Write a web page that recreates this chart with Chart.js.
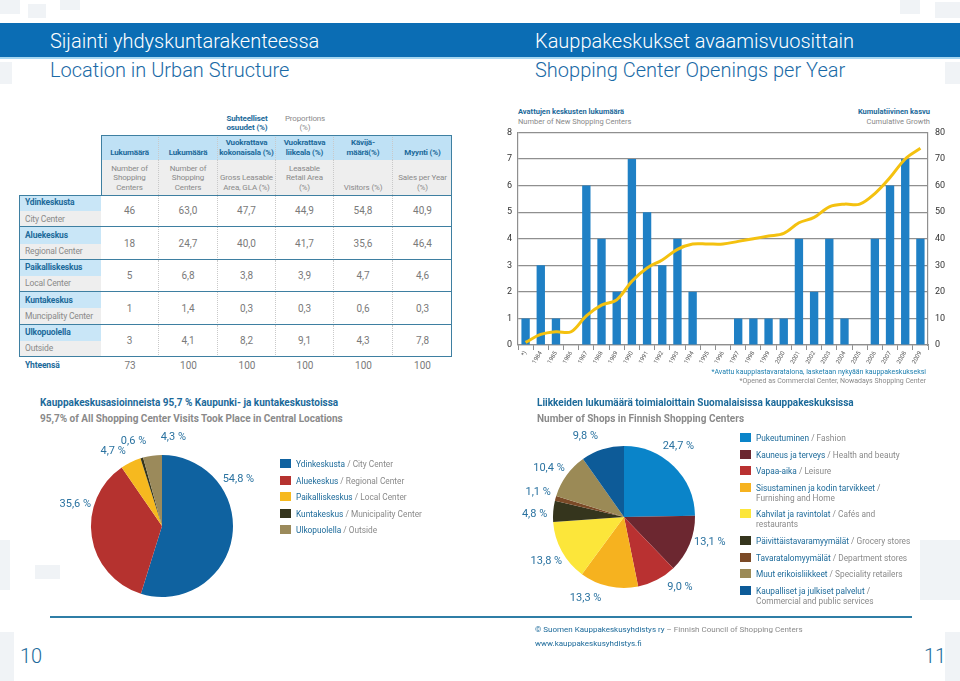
<!DOCTYPE html>
<html>
<head>
<meta charset="utf-8">
<script src="https://cdn.jsdelivr.net/npm/chart.js@4.4.1/dist/chart.umd.min.js"></script>
<style>
body { margin: 0; background: #fff; }
#page { position: relative; width: 960px; height: 681px; overflow: hidden; font-family: Roboto, "Noto Sans", sans-serif; }
.abs { position: absolute; white-space: nowrap; }
.deco { position: absolute; background: #f0f3f6; }
.band { position: absolute; left: 0; top: 23px; width: 960px; height: 34px; background: #0b6db4; border-bottom: 2px solid #a8d8f2; }
.h1 { font-size: 20px; color: #fff; top: 29px; font-weight: 300; }
.h2 { font-size: 20px; color: #1a6aa6; top: 58px; font-weight: 300; }
.cell { position: absolute; display: flex; align-items: center; justify-content: center; text-align: center; box-sizing: border-box;
  font-size: 8px; line-height: 9.5px; white-space: nowrap; letter-spacing: -0.15px; }
.lab { font-size: 8.5px; }
.bl { color: #1c6a9a; font-weight: bold; }
.gr { color: #8a8a8a; }
.num { color: #7a7a7a; font-size: 10px; letter-spacing: 0; }
.t1 { font-size: 10px; font-weight: bold; color: #1c6a9a; }
.t2 { font-size: 10px; font-weight: bold; color: #8a8a8a; }
.leg { position: absolute; font-size: 8.3px; line-height: 10px; }
.leg .it { position: relative; padding-left: 16px; margin-bottom: 6.6px; }
.leg .sw { position: absolute; left: 0; top: 0; width: 11px; height: 9px; }
.fi { color: #1c6a9a; }
.en { color: #8a8a8a; }
canvas { position: absolute; }
</style>
</head>
<body>
<div id="page">
  <div class="deco" style="left:0;top:0;width:20px;height:14px"></div>
  <div class="deco" style="left:28px;top:4px;width:18px;height:14px"></div>
  <div class="deco" style="left:60px;top:0;width:20px;height:10px"></div>
  <div class="deco" style="left:0;top:62px;width:12px;height:22px"></div>
  <div class="deco" style="left:900px;top:0;width:20px;height:14px"></div>
  <div class="deco" style="left:935px;top:2px;width:25px;height:16px"></div>
  <div class="deco" style="left:945px;top:62px;width:15px;height:22px"></div>
  <div class="deco" style="left:0;top:540px;width:10px;height:50px"></div>
  <div class="deco" style="left:35px;top:565px;width:25px;height:14px"></div>
  <div class="deco" style="left:920px;top:540px;width:40px;height:60px"></div>
  <div class="deco" style="left:0;top:632px;width:14px;height:49px"></div>
  <div class="deco" style="left:945px;top:632px;width:15px;height:49px"></div>

  <div class="band"></div>
  <div class="abs h1" style="left:50px">Sijainti yhdyskuntarakenteessa</div>
  <div class="abs h2" style="left:50px">Location in Urban Structure</div>
  <div class="abs h1" style="left:535px">Kauppakeskukset avaamisvuosittain</div>
  <div class="abs h2" style="left:535px">Shopping Center Openings per Year</div>

  <div class="abs bl" style="left:518px;top:107px;font-size:7.5px">Avattujen keskusten lukumäärä</div>
  <div class="abs gr" style="left:518px;top:117px;font-size:7.5px">Number of New Shopping Centers</div>
  <div class="abs bl" style="right:30px;top:107px;font-size:7.5px">Kumulatiivinen kasvu</div>
  <div class="abs gr" style="right:30px;top:117px;font-size:7.5px">Cumulative Growth</div>
  <canvas id="bars" width="460" height="253" style="left:500px;top:120px"></canvas>
  <div class="abs" style="right:34px;top:368px;font-size:7px;color:#1c7fb0">*Avattu kauppiastavaratalona, lasketaan nykyään kauppakeskukseksi</div>
  <div class="abs gr" style="right:34px;top:377px;font-size:7px">*Opened as Commercial Center, Nowadays Shopping Center</div>

  <div class="abs t1" style="left:40px;top:397px">Kauppakeskusasioinneista 95,7 % Kaupunki- ja kuntakeskustoissa</div>
  <div class="abs t2" style="left:40px;top:413px">95,7% of All Shopping Center Visits Took Place in Central Locations</div>
  <canvas id="pieLeft" width="260" height="220" style="left:32px;top:416px"></canvas>
  <div id="legLeft" class="leg" style="left:280px;top:459px"></div>

  <div class="abs t1" style="left:537px;top:397px">Liikkeiden lukumäärä toimialoittain Suomalaisissa kauppakeskuksissa</div>
  <div class="abs t2" style="left:537px;top:413px">Number of Shops in Finnish Shopping Centers</div>
  <canvas id="pieRight" width="250" height="220" style="left:499px;top:407px"></canvas>
  <div id="legRight" class="leg" style="left:740px;top:433px;width:176px"></div>

  <div class="abs" style="left:50px;top:616px;width:862px;height:0;border-top:2px solid #2f7ea6"></div>
  <div class="abs" style="left:535px;top:625px;font-size:8px;color:#8a8a8a"><span style="color:#1c6a9a">© Suomen Kauppakeskusyhdistys ry</span> – Finnish Council of Shopping Centers</div>
  <div class="abs" style="left:535px;top:639px;font-size:8px;color:#1c6a9a">www.kauppakeskusyhdistys.fi</div>
  <div class="abs" style="left:20px;top:644px;font-size:20px;color:#1c6a9a;font-weight:300">10</div>
  <div class="abs" style="left:924px;top:644px;font-size:20px;color:#1c6a9a;font-weight:300">11</div>
</div>
<script>
// Kauppakeskukset avaamisvuosittain
const years = ['*)', '1984', '1985', '1986', '1987', '1988', '1989', '1990', '1991', '1992', '1993', '1994', '1995',
  '1996', '1997', '1998', '1999', '2000', '2001', '2002', '2003', '2004', '2005', '2006', '2007', '2008', '2009'];
const newCenters = [1, 3, 1, 0, 6, 4, 2, 7, 5, 3, 4, 2, 0, 0, 1, 1, 1, 1, 4, 2, 4, 1, 0, 4, 6, 7, 4];
const cumulative = [1, 4, 5, 5, 11, 15, 17, 24, 29, 32, 36, 38, 38, 38, 39, 40, 41, 42, 46, 48, 52, 53, 53, 57, 63, 70, 74];
const countTicks = [0, 1, 2, 3, 4, 5, 6, 7, 8];
const growthTicks = [0, 10, 20, 30, 40, 50, 60, 70, 80];

// Sijainti yhdyskuntarakenteessa (taulukko)
const locationFi = ['Ydinkeskusta', 'Aluekeskus', 'Paikalliskeskus', 'Kuntakeskus', 'Ulkopuolella'];
const locationEn = ['City Center', 'Regional Center', 'Local Center', 'Muncipality Center', 'Outside'];
const centerCount = [46, 18, 5, 1, 3];
const centerShare = [63.0, 24.7, 6.8, 1.4, 4.1];
const glaShare = [47.7, 40.0, 3.8, 0.3, 8.2];
const retailShare = [44.9, 41.7, 3.9, 0.3, 9.1];
const visitorShare = [54.8, 35.6, 4.7, 0.6, 4.3];
const salesShare = [40.9, 46.4, 4.6, 0.3, 7.8];
const totals = [73, 100, 100, 100, 100, 100];
const headFi = ['Lukumäärä', 'Lukumäärä', 'Vuokrattava<br>kokonaisala (%)', 'Vuokrattava<br>liikeala (%)', 'Kävijä-<br>määrä(%)', 'Myynti (%)'];
const headEn = ['Number of<br>Shopping<br>Centers', 'Number of<br>Shopping<br>Centers', 'Gross Leasable<br>Area, GLA (%)',
  'Leasable<br>Retail Area<br>(%)', 'Visitors (%)', 'Sales per Year<br>(%)'];

// Asioinnit (piirakka vasen)
const visitLegendEn = ['City Center', 'Regional Center', 'Local Center', 'Municipality Center', 'Outside'];
const visitColors = ['#0f62a0', '#b5322f', '#f6b91f', '#35351d', '#9b8a5b'];

// Liikkeiden lukumäärä toimialoittain (piirakka oikea)
const shopFi = ['Pukeutuminen', 'Kauneus ja terveys', 'Vapaa-aika', 'Sisustaminen ja kodin tarvikkeet', 'Kahvilat ja ravintolat',
  'Päivittäistavaramyymälät', 'Tavaratalomyymälät', 'Muut erikoisliikkeet', 'Kaupalliset ja julkiset palvelut'];
const shopEn = ['Fashion', 'Health and beauty', 'Leisure', 'Furnishing and Home', 'Cafés and restaurants', 'Grocery stores',
  'Department stores', 'Speciality retailers', 'Commercial and public services'];
const shopShare = [24.7, 13.1, 9.0, 13.3, 13.8, 4.8, 1.1, 10.4, 9.8];
const shopColors = ['#0a84c9', '#6c2730', '#b93131', '#f6b21f', '#fce63a', '#35351d', '#7b4a27', '#9b8a56', '#0d5b98'];

const fmt = v => v.toFixed(1).replace('.', ',');
const page = document.getElementById('page');

// --- taulukko ---
const colX = [19, 101, 159, 218, 276, 334, 393, 452];
const rowY = [195, 227.4, 259.8, 292.2, 324.6, 357];
const edge = '#3e7fa1';
function cell(x, y, w, h, html, cls, extra) {
  const d = document.createElement('div');
  d.className = 'cell ' + (cls || '');
  d.style.cssText = `left:${x}px;top:${y}px;width:${w}px;height:${h}px;` + (extra || '');
  d.innerHTML = html;
  page.appendChild(d);
  return d;
}
cell(colX[3], 112, colX[4] - colX[3], 22, 'Suhteelliset<br>osuudet (%)', 'bl');
cell(colX[4], 112, colX[5] - colX[4], 22, 'Proportions<br>(%)', 'gr');
for (let c = 0; c < 6; c++) {
  const x = colX[c + 1], w = colX[c + 2] - x;
  const sep = c < 5 ? 'border-right:1px dotted #c9c9c9;' : '';
  cell(x, 135, w, 25, headFi[c], 'bl', 'background:#bfe1f5;align-items:flex-end;padding-bottom:3px;' + sep);
  cell(x, 160, w, 35, headEn[c], 'gr', 'background:#eeeeee;align-items:flex-end;padding-bottom:3px;' + sep);
}
cell(colX[1], 135, colX[7] - colX[1], 60, '', '', `border:1.5px solid ${edge};border-bottom:none;`);
const columns = [centerCount, centerShare, glaShare, retailShare, visitorShare, salesShare];
for (let r = 0; r < locationFi.length; r++) {
  const y = rowY[r], h = rowY[r + 1] - y;
  cell(colX[0], y, colX[1] - colX[0], h / 2, locationFi[r], 'bl lab', 'background:#c9e6f7;justify-content:flex-start;padding-left:6px;');
  cell(colX[0], y + h / 2, colX[1] - colX[0], h / 2, locationEn[r], 'gr lab', 'background:#eeeeee;justify-content:flex-start;padding-left:6px;');
  for (let c = 0; c < 6; c++) {
    const v = columns[c][r];
    const sep = c < 5 ? 'border-right:1px dotted #c9c9c9;' : '';
    cell(colX[c + 1], y, colX[c + 2] - colX[c + 1], h, c === 0 ? String(v) : fmt(v), 'num', sep);
  }
  cell(colX[0], y, colX[7] - colX[0], h, '', '', `border-bottom:1.5px solid ${edge};border-left:1.5px solid ${edge};border-right:1.5px solid ${edge};` + (r === 0 ? `border-top:1.5px solid ${edge};` : ''));
}
cell(colX[0], 359, colX[1] - colX[0], 14, 'Yhteensä', 'bl lab', 'justify-content:flex-start;padding-left:6px;');
for (let c = 0; c < 6; c++) {
  cell(colX[c + 1], 359, colX[c + 2] - colX[c + 1], 14, String(totals[c]), 'num');
}

// --- legendat ---
function legend(id, fi, en, colors) {
  const box = document.getElementById(id);
  fi.forEach((t, i) => {
    const it = document.createElement('div');
    it.className = 'it';
    it.innerHTML = `<span class="sw" style="background:${colors[i]}"></span><span class="fi">${t}</span> <span class="en">/ ${en[i]}</span>`;
    box.appendChild(it);
  });
}
legend('legLeft', locationFi, visitLegendEn, visitColors);
legend('legRight', shopFi, shopEn, shopColors);

// --- pylväs + kumulatiivinen viiva ---
const gridCol = '#8f8f8f';
new Chart(document.getElementById('bars'), {
  type: 'bar',
  data: {
    labels: years,
    datasets: [
      { type: 'line', data: cumulative, yAxisID: 'y1', borderColor: '#f4c10f', borderWidth: 3,
        pointRadius: 0, tension: 0.35, order: 1 },
      { type: 'bar', data: newCenters, yAxisID: 'y', backgroundColor: '#1f80c5',
        categoryPercentage: 1, barPercentage: 0.55, order: 2 }
    ]
  },
  options: {
    responsive: false, animation: false,
    layout: { padding: { top: 12, left: 0, right: 0, bottom: 0 } },
    plugins: { legend: { display: false }, tooltip: { enabled: false } },
    scales: {
      x: {
        grid: { display: true, drawOnChartArea: false, offset: true, tickLength: 5, color: gridCol },
        border: { color: gridCol, width: 1.2 },
        ticks: { autoSkip: false, minRotation: 60, maxRotation: 60, font: { family: 'Roboto', size: 6 }, color: '#555', padding: 0 },
        afterFit(s) { s.height = 28; }
      },
      y: {
        min: 0, max: 8,
        afterBuildTicks(s) { s.ticks = countTicks.map(v => ({ value: v })); },
        grid: { color: gridCol, lineWidth: 1.2, drawTicks: false },
        border: { color: gridCol, width: 1.2 },
        ticks: { font: { family: 'Roboto', size: 9 }, color: '#333', padding: 6 },
        afterFit(s) { s.width = 18; }
      },
      y1: {
        position: 'right', min: 0, max: 80,
        afterBuildTicks(s) { s.ticks = growthTicks.map(v => ({ value: v })); },
        grid: { drawOnChartArea: false, drawTicks: false },
        border: { color: gridCol, width: 1.2 },
        ticks: { font: { family: 'Roboto', size: 9 }, color: '#333', padding: 7 },
        afterFit(s) { s.width = 32; }
      }
    }
  }
});

// --- piirakat ---
const pieLabels = {
  id: 'pieLabels',
  afterDatasetsDraw(chart, args, opts) {
    const ctx = chart.ctx;
    const values = chart.data.datasets[0].data;
    const shift = opts.shift || [];
    ctx.save();
    ctx.font = '11px Roboto, sans-serif';
    ctx.fillStyle = '#2a72a0';
    ctx.textAlign = 'center';
    ctx.textBaseline = 'middle';
    chart.getDatasetMeta(0).data.forEach((arc, i) => {
      const p = arc.getProps(['x', 'y', 'startAngle', 'endAngle', 'outerRadius'], true);
      const mid = (p.startAngle + p.endAngle) / 2 + (shift[i] || 0) * Math.PI / 180;
      const r = p.outerRadius * 1.26;
      ctx.fillText(fmt(values[i]) + ' %', p.x + Math.cos(mid) * r, p.y + Math.sin(mid) * r);
    });
    ctx.restore();
  }
};
function pie(id, values, colors, pad, shift) {
  new Chart(document.getElementById(id), {
    type: 'pie',
    data: { labels: values.map(String), datasets: [{ data: values, backgroundColor: colors, borderWidth: 0 }] },
    options: {
      responsive: false, animation: false,
      layout: { padding: pad },
      plugins: { legend: { display: false }, tooltip: { enabled: false }, pieLabels: { shift } }
    },
    plugins: [pieLabels]
  });
}
pie('pieLeft', visitorShare, visitColors, { left: 59, right: 59, top: 39, bottom: 39 }, [-40, 23, -7, -2, 15]);
pie('pieRight', shopShare, shopColors, { left: 54, right: 54, top: 39, bottom: 39 }, [-7, -6, -11, 13, -1, -3, 1, -3, -8]);
</script>
</body>
</html>
